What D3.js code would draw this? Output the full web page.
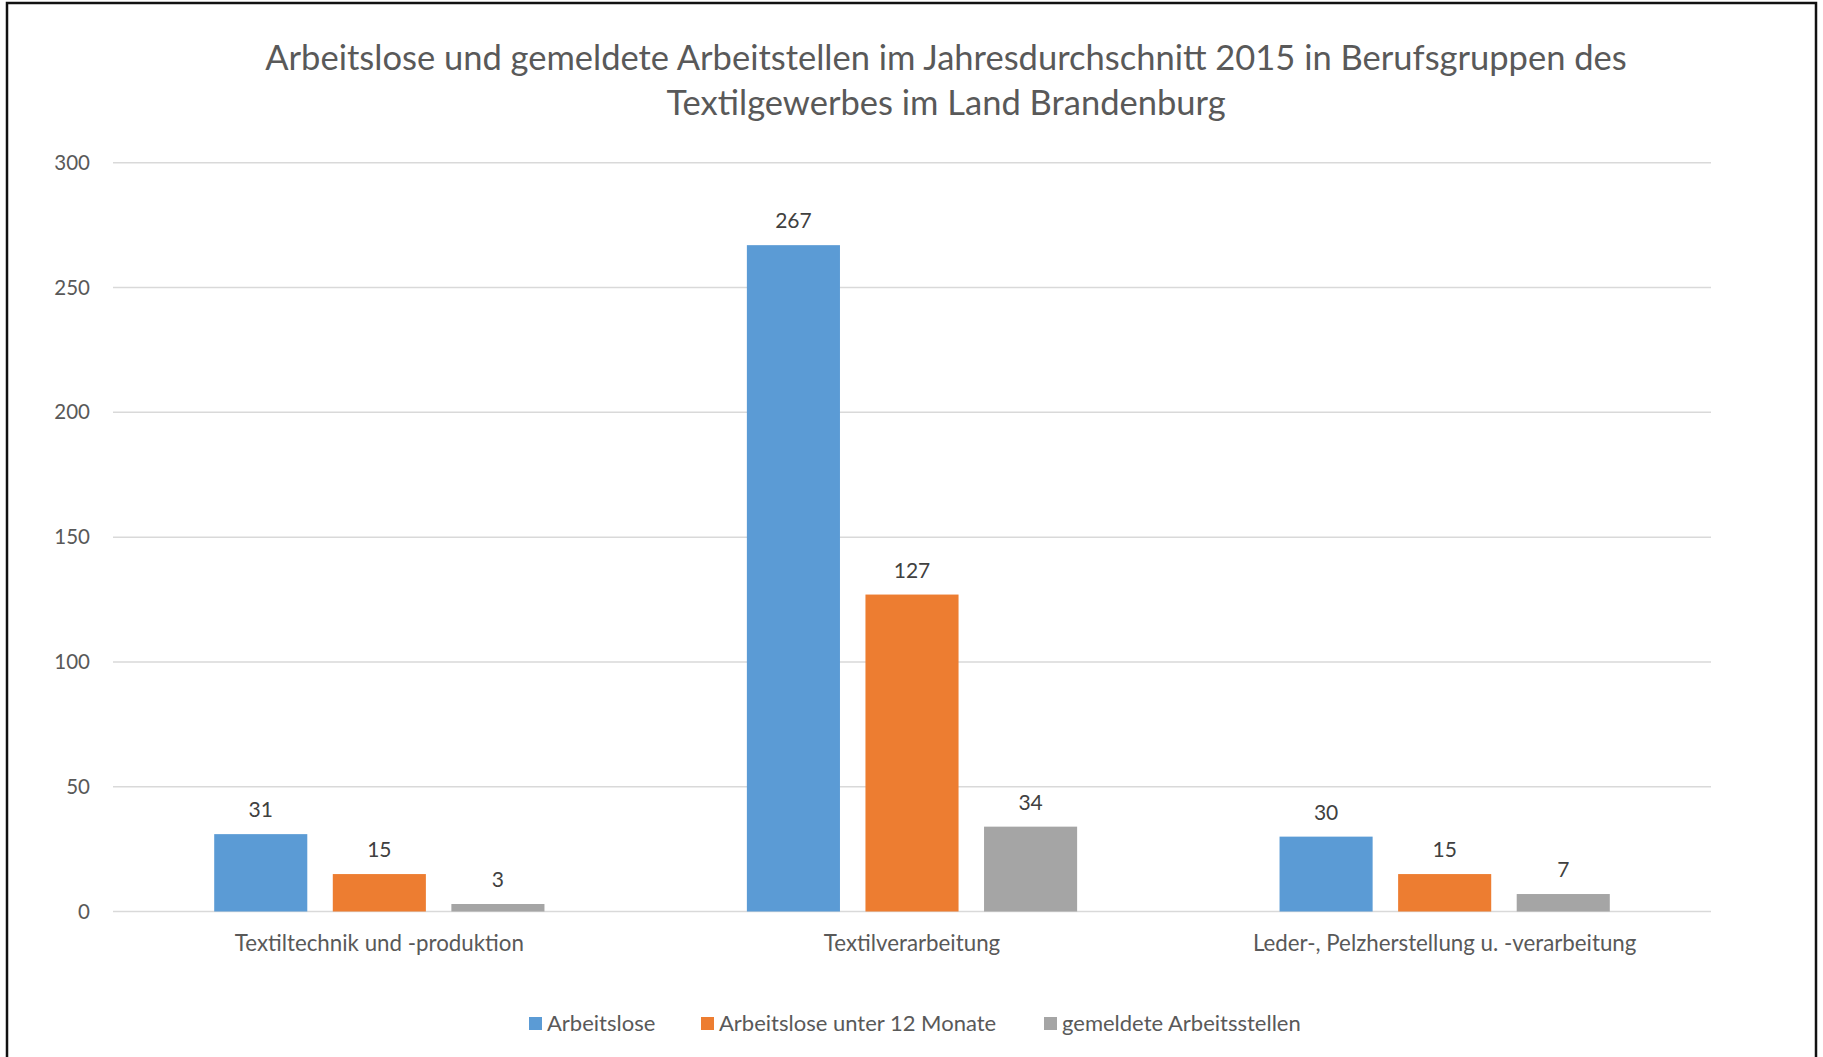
<!DOCTYPE html>
<html>
<head>
<meta charset="utf-8">
<script src="https://cdn.jsdelivr.net/npm/d3@7"></script>
<style>
  html, body { margin: 0; padding: 0; background: #fff; }
  svg { display: block; }
  text { font-family: Lato, "Open Sans", sans-serif; }
</style>
</head>
<body>
<svg id="chart" width="1823" height="1057"></svg>
<script>
const titleLines = ["Arbeitslose und gemeldete Arbeitstellen im Jahresdurchschnitt 2015 in Berufsgruppen des",
                    "Textilgewerbes im Land Brandenburg"];
const categories = ["Textiltechnik und -produktion", "Textilverarbeitung", "Leder-, Pelzherstellung u. -verarbeitung"];
const seriesNames = ["Arbeitslose", "Arbeitslose unter 12 Monate", "gemeldete Arbeitsstellen"];
const arbeitslose = [31, 267, 30];
const unter12 = [15, 127, 15];
const stellen = [3, 34, 7];
const yTicks = [0, 50, 100, 150, 200, 250, 300];
const colors = ["#5B9BD5", "#ED7D31", "#A5A5A5"];

const seriesValues = [arbeitslose, unter12, stellen];

const svg = d3.select("#chart");
const W = 1823, H = 1057;

// frame
svg.append("rect").attr("x", 0).attr("y", 0).attr("width", W).attr("height", H).attr("fill", "#fff");
svg.append("path")
  .attr("d", "M7,1060 L7,3 L1816,3 L1816,1060")
  .attr("fill", "none").attr("stroke", "#111").attr("stroke-width", 2.5);

const plot = { left: 113, right: 1711, top: 162.8, bottom: 911.5 };

const y = d3.scaleLinear().domain([0, 300]).range([plot.bottom, plot.top]);
const x0 = d3.scaleBand().domain(categories).range([plot.left, plot.right])
  .paddingInner(0.38).paddingOuter(0.19);
const x1 = d3.scaleBand().domain(seriesNames).range([0, x0.bandwidth()])
  .paddingInner(0.215).paddingOuter(0);

// title
const title = svg.append("text")
  .attr("text-anchor", "middle")
  .attr("fill", "#595959")
  .attr("font-size", 34.5);
titleLines.forEach((t, i) => {
  title.append("tspan").attr("x", 946).attr("y", 70 + i * 45).text(t);
});

// gridlines
svg.append("g")
  .selectAll("line").data(yTicks).join("line")
  .attr("x1", plot.left).attr("x2", plot.right)
  .attr("y1", d => y(d)).attr("y2", d => y(d))
  .attr("stroke", "#D9D9D9").attr("stroke-width", 1.5);

// y axis labels via d3 axis
const yAxis = svg.append("g")
  .attr("transform", `translate(${plot.left - 23},0)`)
  .call(d3.axisLeft(y).tickValues(yTicks).tickSize(0).tickPadding(0));
yAxis.select(".domain").remove();
yAxis.selectAll("text")
  .attr("font-family", "Lato, 'Open Sans', sans-serif")
  .attr("font-size", 20.5).attr("fill", "#595959");

// x axis labels
const xAxis = svg.append("g")
  .attr("transform", `translate(0,${plot.bottom})`)
  .call(d3.axisBottom(x0).tickSize(0).tickPadding(0));
xAxis.select(".domain").remove();
xAxis.selectAll("text")
  .attr("font-family", "Lato, 'Open Sans', sans-serif")
  .attr("font-size", 22.3).attr("fill", "#595959")
  .attr("dy", 0).attr("y", 39);

// bars
const groups = svg.append("g").selectAll("g").data(categories).join("g")
  .attr("transform", d => `translate(${x0(d)},0)`);

groups.each(function(cat, ci) {
  const g = d3.select(this);
  const data = seriesNames.map((s, si) => ({ s, si, v: seriesValues[si][ci] }));
  g.selectAll("rect").data(data).join("rect")
    .attr("x", d => x1(d.s))
    .attr("width", x1.bandwidth())
    .attr("y", d => y(d.v))
    .attr("height", d => y(0) - y(d.v))
    .attr("fill", d => colors[d.si]);
  g.selectAll("text").data(data).join("text")
    .attr("x", d => x1(d.s) + x1.bandwidth() / 2)
    .attr("y", d => y(d.v) - 17)
    .attr("text-anchor", "middle")
    .attr("font-size", 21)
    .attr("fill", "#404040")
    .text(d => d.v);
});

// legend
const legendX = [529, 701, 1044];
const legend = svg.append("g");
seriesNames.forEach((s, i) => {
  legend.append("rect").attr("x", legendX[i]).attr("y", 1017).attr("width", 13).attr("height", 13)
    .attr("fill", colors[i]);
  legend.append("text").attr("x", legendX[i] + 18).attr("y", 1030.5)
    .attr("font-size", 22).attr("fill", "#595959").text(s);
});
</script>
</body>
</html>
